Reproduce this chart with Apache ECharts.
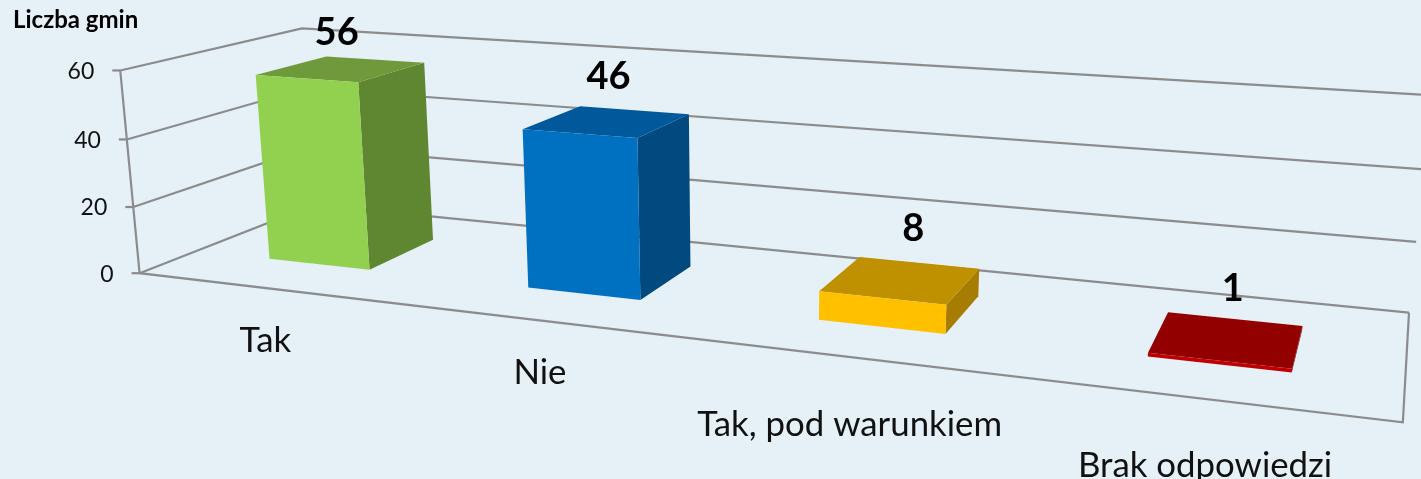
<!DOCTYPE html>
<html>
<head>
<meta charset="utf-8">
<title>Liczba gmin</title>
<script src="https://cdn.jsdelivr.net/npm/echarts@6/dist/echarts.min.js"></script>
<style>
  html, body { margin: 0; padding: 0; background: #e5f0f7; }
  #chart { width: 1421px; height: 479px; }
</style>
</head>
<body>
<div id="chart"></div>
<script>
const categories = ['Tak', 'Nie', 'Tak, pod warunkiem', 'Brak odpowiedzi']
const values = [56, 46, 8, 1]
const ticks = [0, 20, 40, 60]

const FONT = 'Lato, "Open Sans", sans-serif'
const LINE = '#8c8c8c'
// front, top, side
const shades = [
  ['#92d14f', '#6f9a3b', '#5f8630'],
  ['#0070c0', '#00599a', '#004a7f'],
  ['#ffc000', '#bf9000', '#a67d00'],
  ['#c00000', '#920000', '#7f0000']
]
// small hand nudges for the texts, px
const valueNudge = [[-5, 4], [0, -2], [10, -7], [2, -4]]
const nameNudge = [[3, -8], [3, -12], [2, -1], [3, -7]]

// the box of the 3D plot as it lands on the page: [across, depth, height] -> [px, py]
const box = [
  [[0, 0, 0], [139, 273]],
  [[1, 0, 0], [1403, 422]],
  [[0, 1, 0], [314, 205]],
  [[1, 1, 0], [1409, 313]],
  [[0, 0, 1], [120, 71]],
  [[0, 0, 1 / 3], [134, 207]],
  [[0, 1, 1], [302, 28]],
  [[1, 1, 1], [1431, 95]],
  [[1, 1, 1 / 3], [1416, 242]]
]

// least squares fit of a projective camera to the box corners
function fitCamera(pts) {
  const rows = []
  pts.forEach(([[u, d, h], [x, y]]) => {
    rows.push([u, d, h, 1, 0, 0, 0, 0, -x * u, -x * d, -x * h, x])
    rows.push([0, 0, 0, 0, u, d, h, 1, -y * u, -y * d, -y * h, y])
  })
  const n = 11
  const m = []
  for (let i = 0; i < n; i++) {
    m.push([])
    for (let j = 0; j <= n; j++) {
      m[i].push(rows.reduce((s, r) => s + r[i] * r[j], 0))
    }
  }
  for (let i = 0; i < n; i++) {
    let best = i
    for (let k = i + 1; k < n; k++) if (Math.abs(m[k][i]) > Math.abs(m[best][i])) best = k
    ;[m[i], m[best]] = [m[best], m[i]]
    for (let k = 0; k < n; k++) {
      if (k === i) continue
      const f = m[k][i] / m[i][i]
      for (let j = i; j <= n; j++) m[k][j] -= f * m[i][j]
    }
  }
  return m.map((r, i) => r[n] / r[i])
}

const cam = fitCamera(box)

function project(u, d, h) {
  const w = cam[8] * u + cam[9] * d + cam[10] * h + 1
  return [
    (cam[0] * u + cam[1] * d + cam[2] * h + cam[3]) / w,
    (cam[4] * u + cam[5] * d + cam[6] * h + cam[7]) / w
  ]
}

// the flat grid fills the page, its scales give across and height in 0..1
function toModel(api, category, value) {
  const p = api.coord([category, value])
  return [p[0] / api.getWidth(), 1 - p[1] / api.getHeight()]
}

const BAR_FRONT = 0.3
const BAR_BACK = 0.71
const BAR_SHARE = 0.4

function renderBar(params, api) {
  const i = api.value(0)
  const v = api.value(1)
  const [uc, h] = toModel(api, i, v)
  const half = (api.size([1, 0])[0] / api.getWidth()) * BAR_SHARE / 2
  const u0 = uc - half
  const u1 = uc + half
  const d0 = BAR_FRONT
  const d1 = BAR_BACK
  const c = shades[i]
  const labelPos = project(uc, 0.52, h + 0.2)
  const namePos = project(uc + 0.002, -0.05, -0.28)
  return {
    type: 'group',
    children: [
      { type: 'polygon', shape: { points: [project(u1, d0, h), project(u1, d1, h), project(u1, d1, 0), project(u1, d0, 0)] }, style: { fill: c[2] } },
      { type: 'polygon', shape: { points: [project(u0, d0, h), project(u0, d1, h), project(u1, d1, h), project(u1, d0, h)] }, style: { fill: c[1] } },
      { type: 'polygon', shape: { points: [project(u0, d0, h), project(u1, d0, h), project(u1, d0, 0), project(u0, d0, 0)] }, style: { fill: c[0] } },
      { type: 'text', style: { x: labelPos[0] + valueNudge[i][0], y: labelPos[1] + valueNudge[i][1], text: String(v), fill: '#000', font: 'bold 38px ' + FONT, align: 'center', verticalAlign: 'middle' } },
      { type: 'text', style: { x: namePos[0] + nameNudge[i][0], y: namePos[1] + nameNudge[i][1], text: categories[i], fill: '#111', font: '34.8px ' + FONT, align: 'center', verticalAlign: 'middle' } }
    ]
  }
}

function renderWall(params, api) {
  const t = api.value(0)
  const h = toModel(api, 0, t)[1]
  const a = project(0, 0, h)
  const lineStyle = { stroke: LINE, lineWidth: 2.2, fill: null }
  return {
    type: 'group',
    children: [
      { type: 'polyline', shape: { points: [a, project(0, 1, h), project(1, 1, h)] }, style: lineStyle },
      { type: 'line', shape: { x1: a[0] - 8, y1: a[1], x2: a[0], y2: a[1] }, style: lineStyle },
      { type: 'text', style: { x: a[0] - 26, y: a[1] + 1, text: String(t), fill: '#111', font: '23px ' + FONT, align: 'right', verticalAlign: 'middle' } }
    ]
  }
}

function renderFrame(params, api) {
  const top = toModel(api, 0, ticks[ticks.length - 1])[1]
  const lineStyle = { stroke: LINE, lineWidth: 2.2, fill: null }
  return {
    type: 'group',
    children: [
      { type: 'polyline', shape: { points: [project(0, 0, top), project(0, 0, 0), project(1, 0, 0), project(1, 1, 0)] }, style: lineStyle }
    ]
  }
}

const chart = echarts.init(document.getElementById('chart'))

chart.setOption({
  backgroundColor: '#e5f0f7',
  animation: false,
  title: {
    text: 'Liczba gmin',
    left: 8,
    top: 3,
    textStyle: { fontFamily: FONT, fontSize: 24, fontWeight: 'bold', color: '#000' }
  },
  grid: { left: 0, right: 0, top: 0, bottom: 0 },
  xAxis: { type: 'category', data: categories, show: false },
  yAxis: { type: 'value', min: 0, max: 60, interval: 20, show: false },
  series: [
    { type: 'custom', name: 'sciany', data: ticks.map(t => [t]), encode: { y: 0 }, clip: false, renderItem: renderWall, z: 1 },
    { type: 'custom', name: 'rama', data: [0], clip: false, renderItem: renderFrame, z: 2 },
    { type: 'custom', name: 'Liczba gmin', data: values.map((v, i) => [i, v]), encode: { x: 0, y: 1 }, clip: false, renderItem: renderBar, z: 3 }
  ]
})

window.addEventListener('resize', () => chart.resize())
</script>
</body>
</html>
